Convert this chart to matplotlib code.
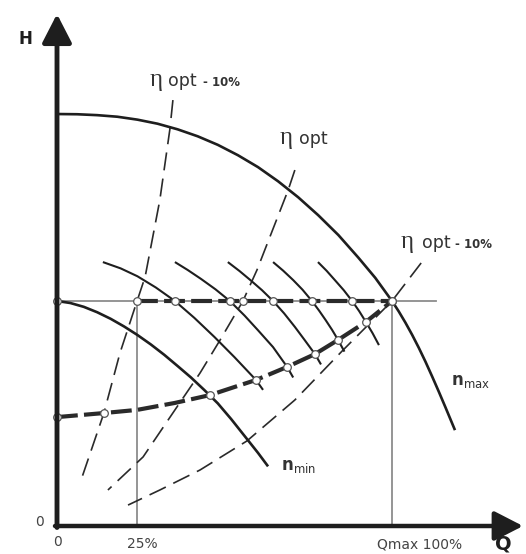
import matplotlib
matplotlib.use("Agg")
import matplotlib.pyplot as plt

plt.rcParams['font.family'] = ['DejaVu Sans']
plt.rcParams['mathtext.fontset'] = 'dejavusans'
plt.rcParams['lines.scale_dashes'] = False

# ---------------- data (Q in % of Qmax, H in % of operating head) ----------------
nmax_Q = [0, 6, 12, 18, 24, 30, 36, 42, 48, 54, 60, 66, 72, 78, 84, 90, 95, 100,
          102, 104, 106, 108, 110, 112, 114, 116, 118.8]
nmax_H = [183.1, 183.0, 182.6, 181.9, 180.6, 178.8, 176.3, 173.2, 169.4, 164.8,
          159.5, 153.2, 146.1, 138.1, 129.3, 119.2, 110.3, 100,
          95.4, 90.4, 85.0, 79.2, 73.0, 66.4, 59.6, 52.6, 42.6]

nmin_Q = [0, 4, 8, 12, 16, 20, 24, 28, 32, 36, 40, 44, 48, 52, 56, 60, 63]
nmin_H = [100, 99.1, 97.4, 95.0, 92.1, 88.7, 84.9, 80.7, 76.1, 71.1, 66.0, 60.4,
          54.5, 47.5, 40.0, 32.5, 26.5]

system_Q = [0, 14, 23.9, 35.2, 45.7, 52, 59.4, 68.7, 77, 83.9, 92.2, 100]
system_H = [48.4, 50.2, 51.6, 54.7, 58.2, 61.3, 64.9, 70.7, 76.4, 82.7, 90.7, 100]

arcs_Q = [
    [13.7, 19, 24, 29.5, 35.2, 41, 47, 53, 59.4, 61.5],
    [35.2, 39, 43, 47.3, 51.6, 56, 60, 64.5, 68.7, 70.5],
    [51.0, 54.5, 57.8, 61.2, 64.5, 67.8, 71, 74, 77, 78.8],
    [64.5, 67.5, 70.5, 73.3, 76.1, 78.2, 80.2, 82.1, 83.9, 85.8],
    [77.9, 80.5, 83, 85.6, 88.1, 90.2, 92.2, 94.2, 96.1],
]
arcs_H = [
    [117.3, 114.5, 111, 106, 100, 92.5, 84, 75, 64.9, 60.5],
    [117.3, 113.8, 109.8, 105.2, 100, 93.5, 87, 79.5, 70.7, 66],
    [117.3, 113.3, 109.2, 104.8, 100, 94.5, 88.5, 82.5, 76.4, 71.8],
    [117.3, 113.5, 109.3, 105, 100, 95.8, 91.5, 87.2, 82.7, 77.5],
    [117.3, 113.4, 109.2, 104.8, 100, 95.5, 90.7, 85.7, 80.4],
]

eta_left_Q = [34.6, 33.7, 30.7, 26.3, 23.9, 18.8, 14.0, 7.5]
eta_left_H = [189.3, 176.4, 144.9, 110.7, 100, 76.9, 50.2, 21.8]

eta_opt_Q = [71.0, 69.0, 59.7, 55.5, 48.7, 42.7, 35.8, 25.7, 15.2]
eta_opt_H = [158.2, 149.3, 113.8, 100, 82.7, 68.0, 52.9, 30.7, 16.0]

eta_right_Q = [108.7, 100, 85.4, 71.0, 56.7, 42.7, 30.7, 21.2]
eta_right_H = [116.9, 100, 78.2, 56.0, 37.8, 24.9, 16.0, 9.3]

H_opt = 100
Q_25 = 23.9
Q_max = 100
Q_hline_end = 113.1
hline_dot_Q = [0, 23.9, 35.2, 51.6, 55.5, 64.5, 76.1, 88.1, 100]
sys_dot_Q = [0, 14.0, 45.7, 59.4, 68.7, 77.0, 83.9, 92.2, 100]
sys_dot_H = [48.4, 50.2, 58.2, 64.9, 70.7, 76.4, 82.7, 90.7, 100]

x_tick_labels = ['0', '25%', 'Qmax 100%']

# ---------------- layout ----------------
W, Hpx = 526, 554
X0, Y0 = 57, 526          # pixel position of origin
SX, SY = 3.35, 2.25       # pixels per unit

def px(x, y):
    return (x - X0) / SX, (Y0 - y) / SY

fig = plt.figure(figsize=(W / 100, Hpx / 100), dpi=100)
ax = fig.add_axes([0, 0, 1, 1])
ax.set_xlim(px(0, 0)[0], px(W, 0)[0])
ax.set_ylim(px(0, Hpx)[1], px(0, 0)[1])
ax.axis('off')

dark = '#1e1e1e'
gray = '#8c8c8c'
txt = '#333333'

# thin gray reference lines
ax.plot([0, Q_hline_end], [H_opt, H_opt], color=gray, lw=1.3, zorder=1)
ax.plot([Q_25, Q_25], [0, H_opt], color=gray, lw=1.3, zorder=1)
ax.plot([Q_max, Q_max], [0, H_opt], color=gray, lw=1.3, zorder=1)

# thick dashed lines
ax.plot([Q_25, Q_max], [H_opt, H_opt], color='#2a2a2a', lw=3.0,
        dashes=(15, 4.5), zorder=3)
ax.plot(system_Q, system_H, color='#2a2a2a', lw=3.0, dashes=(15, 4.5), zorder=3)

# thin dashed efficiency lines
for q, h in [(eta_left_Q, eta_left_H), (eta_opt_Q, eta_opt_H), (eta_right_Q, eta_right_H)]:
    ax.plot(q, h, color='#2a2a2a', lw=1.2, dashes=(13, 6), zorder=2)

# speed curves
ax.plot(nmax_Q, nmax_H, color=dark, lw=1.9, zorder=4, solid_capstyle='butt')
ax.plot(nmin_Q, nmin_H, color=dark, lw=1.9, zorder=4, solid_capstyle='butt')
for q, h in zip(arcs_Q, arcs_H):
    ax.plot(q, h, color=dark, lw=1.5, zorder=4, solid_capstyle='butt')

# dots
ax.plot(hline_dot_Q, [H_opt] * len(hline_dot_Q), 'o', ms=5.5, mfc='white',
        mec='#555555', mew=0.9, zorder=6)
ax.plot(sys_dot_Q, sys_dot_H, 'o', ms=5.5, mfc='white', mec='#555555', mew=0.9, zorder=6)

# axes with arrows
ax.annotate('', xy=px(X0, 14), xytext=px(X0, Y0 + 1.5),
            arrowprops=dict(arrowstyle='-|>,head_length=1.75,head_width=0.9',
                            lw=3.5, color=dark, shrinkA=0, shrinkB=0), zorder=7)
ax.annotate('', xy=px(523, Y0), xytext=px(X0 - 2, Y0),
            arrowprops=dict(arrowstyle='-|>,head_length=1.75,head_width=0.9',
                            lw=3.2, color=dark, shrinkA=0, shrinkB=0), zorder=7)

# axis labels and ticks
ax.text(*px(25, 39), 'H', fontsize=12, fontweight='bold', color=dark,
        ha='center', va='center')
ax.text(*px(503, 544), 'Q', fontsize=14, fontweight='bold', color=dark,
        ha='center', va='center')
ax.text(*px(40, 522), '0', fontsize=10, color='#444444', ha='center', va='center')
ax.text(*px(57, 542), x_tick_labels[0], fontsize=10, color='#444444', ha='center', va='center')
ax.text(*px(142, 544), x_tick_labels[1], fontsize=10, color='#444444', ha='center', va='center')
ax.text(*px(420, 544), x_tick_labels[2], fontsize=10, color='#444444', ha='center', va='center')

# efficiency labels
def eta_label(x_eta, x_opt, x_pct, y_base, pct=True):
    ax.text(*px(x_eta, y_base), 'η', fontsize=18, color=txt, ha='left', va='baseline',
            family=['Liberation Serif', 'DejaVu Serif'])
    ax.text(*px(x_opt, y_base), 'opt', fontsize=12.5, color=txt, ha='left', va='baseline')
    if pct:
        ax.text(*px(x_pct, y_base), '- 10%', fontsize=8.5, fontweight='bold',
                color=txt, ha='left', va='baseline')

eta_label(150, 168, 203, 86)
eta_label(280, 299, 0, 144, pct=False)
eta_label(401, 422, 455, 248)

ax.text(*px(451, 385), r'$\mathbf{n}_{\mathrm{max}}$', fontsize=12, color=txt,
        ha='left', va='baseline')
ax.text(*px(281, 470), r'$\mathbf{n}_{\mathrm{min}}$', fontsize=12, color=txt,
        ha='left', va='baseline')

fig.savefig('out.png', dpi=100, facecolor='white')
